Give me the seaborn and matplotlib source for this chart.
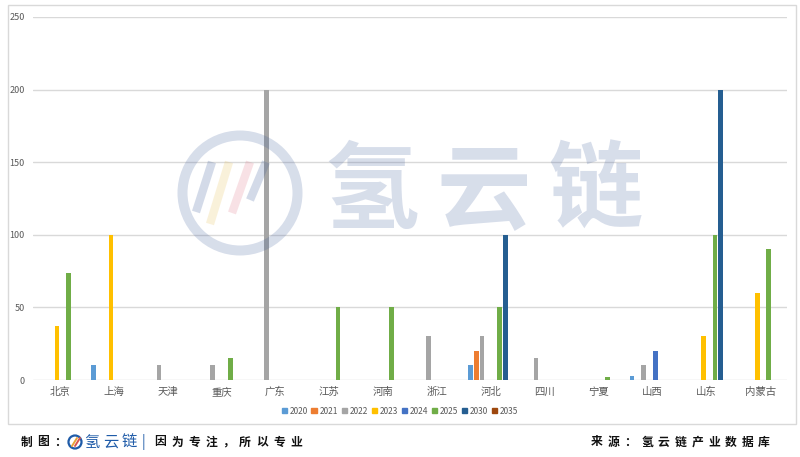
import matplotlib
matplotlib.use("Agg")
import matplotlib.pyplot as plt
import seaborn as sns
import pandas as pd
from matplotlib.patches import Rectangle, Circle
from matplotlib.lines import Line2D
from matplotlib.transforms import IdentityTransform

provinces = ["北京", "上海", "天津", "重庆", "广东", "江苏", "河南", "浙江",
             "河北", "四川", "宁夏", "山西", "山东", "内蒙古"]
years = ["2020", "2021", "2022", "2023", "2024", "2025", "2030", "2035"]

v2020 = [0, 10, 0, 0, 0, 0, 0, 0, 10, 0, 0, 3, 0, 0]
v2021 = [0, 0, 0, 0, 0, 0, 0, 0, 20, 0, 0, 0, 0, 0]
v2022 = [0, 0, 10, 10, 200, 0, 0, 30, 30, 15, 0, 10, 0, 0]
v2023 = [37, 100, 0, 0, 0, 0, 0, 0, 0, 0, 0, 0, 30, 60]
v2024 = [0, 0, 0, 0, 0, 0, 0, 0, 0, 0, 0, 20, 0, 0]
v2025 = [74, 0, 0, 15, 0, 50, 50, 0, 50, 0, 2, 0, 100, 90]
v2030 = [0, 0, 0, 0, 0, 0, 0, 0, 100, 0, 0, 0, 200, 0]
v2035 = [0, 0, 0, 0, 0, 0, 0, 0, 0, 0, 0, 0, 0, 0]

colors = ["#5B9BD5", "#ED7D31", "#A5A5A5", "#FFC000",
          "#4472C4", "#70AD47", "#255E91", "#9E480E"]

series = [v2020, v2021, v2022, v2023, v2024, v2025, v2030, v2035]
rows = []
for y, vals in zip(years, series):
    for p, v in zip(provinces, vals):
        if v > 0:
            rows.append({"province": p, "year": y, "value": v})
df = pd.DataFrame(rows)

sns.set_theme(style="white")
plt.rcParams["font.family"] = ["Noto Sans CJK SC", "DejaVu Sans"]

W, H = 800, 457
fig = plt.figure(figsize=(W / 100, H / 100), dpi=100)
ax = fig.add_axes([33 / W, 1 - 380 / H, (787 - 33) / W, (380 - 17) / H])

palette = dict(zip(years, colors))
sns.barplot(data=df, x="province", y="value", hue="year", order=provinces,
            hue_order=years, palette=palette, width=0.86, gap=0.18,
            linewidth=0, saturation=1, ax=ax, legend=False, zorder=3)

ax.set_ylim(0, 250)
ax.set_xlim(-0.5, len(provinces) - 0.5)
ax.set_yticks([0, 50, 100, 150, 200, 250])
ax.yaxis.grid(True, color="#D9D9D9", linewidth=1.0, zorder=0)
ax.set_axisbelow(True)
for s in ax.spines.values():
    s.set_visible(False)
ax.set_xlabel("")
ax.set_ylabel("")
ax.tick_params(axis="both", length=0, colors="#595959")
ax.tick_params(axis="x", labelsize=7.5, pad=5)
ax.tick_params(axis="y", labelsize=6.5, pad=6)

# legend
handles = [Rectangle((0, 0), 1, 1, color=c) for c in colors]
fig.legend(handles, years, loc="center", bbox_to_anchor=(400 / W, 1 - 411 / H),
           ncol=8, frameon=False, fontsize=6, handlelength=0.65, handleheight=0.65,
           handletextpad=0.35, columnspacing=0.4, labelcolor="#595959")

# chart frame
fig.patches.append(Rectangle((8 / W, 1 - 424 / H), (796 - 8) / W, (424 - 5) / H,
                             transform=fig.transFigure, fill=False,
                             edgecolor="#D9D9D9", linewidth=1.0))

px = IdentityTransform()


def P(x, y):
    return (x, H - y)


# watermark
wm = "#3A5A9A"
fig.patches.append(Circle(P(240, 193), 57.5, transform=px, fill=False,
                          edgecolor=wm, linewidth=7.2, alpha=0.2, zorder=10))
for (x0, y0, x1, y1, c) in [(196, 212, 212, 162, wm), (210, 224, 229, 162, "#E8C25A"),
                            (232, 213, 250, 162, "#E07A8A"), (250, 200, 266, 162, wm)]:
    fig.add_artist(Line2D([x0, x1], [H - y0, H - y1], transform=px, color=c,
                          linewidth=6, alpha=0.22, solid_capstyle="butt", zorder=10))
for ch, cx in zip("氢云链", [372, 484, 596]):
    fig.text(cx / W, 1 - 193 / H, ch, fontsize=68, fontweight="bold",
             color=wm, alpha=0.2, ha="center", va="center", zorder=10)


def spaced(text, x0, y, pitch, **kw):
    for i, ch in enumerate(text):
        fig.text((x0 + i * pitch) / W, 1 - y / H, ch, ha="center", va="center", **kw)


fy = 442
foot = dict(fontsize=8.5, fontweight="heavy", color="#111111")
spaced("制图：", 26.7, fy, 16.7, **foot)
fig.patches.append(Circle(P(75, fy), 6.5, transform=px, fill=False,
                          edgecolor="#1F5BA8", linewidth=1.6))
fig.add_artist(Line2D([72, 77], [H - fy - 4, H - fy + 4], transform=px,
                      color="#E8A33A", linewidth=1.4))
fig.add_artist(Line2D([75, 80], [H - fy - 4, H - fy + 4], transform=px,
                      color="#D9534F", linewidth=1.4))
spaced("氢云链", 92, fy, 18.5, fontsize=11, color="#1F5BA8")
fig.text(143 / W, 1 - fy / H, "|", fontsize=10, color="#1F5BA8", ha="center", va="center")
spaced("因为专注，所以专业", 160, fy, 17.0, **foot)
spaced("来源：氢云链产业数据库", 597, fy, 16.7, **foot)

fig.savefig("out.png", dpi=100)
